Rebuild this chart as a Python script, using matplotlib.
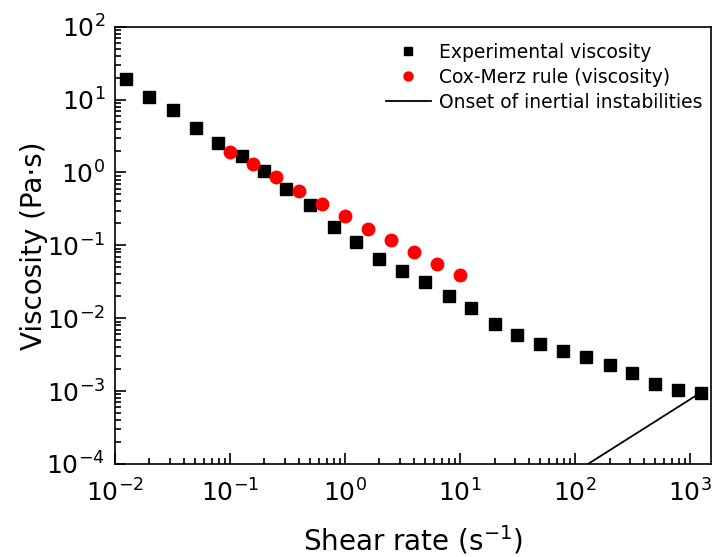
import numpy as np
import matplotlib.pyplot as plt
from matplotlib.ticker import LogLocator, NullFormatter

# experimental viscosity (black squares)
exp_rate = [0.0125, 0.020, 0.0319, 0.0506, 0.0787, 0.127, 0.20, 0.31, 0.50, 0.80,
            1.26, 2.0, 3.16, 5.0, 8.0, 12.6, 20, 31.6, 50, 79, 126, 200, 316, 500, 790, 1250]
exp_visc = [19.3, 11.0, 7.2, 4.1, 2.57, 1.66, 1.06, 0.60, 0.36, 0.18,
            0.11, 0.064, 0.045, 0.031, 0.020, 0.0138, 0.0083, 0.0059, 0.0044, 0.0035,
            0.0029, 0.0023, 0.0018, 0.00126, 0.00103, 0.00093]

# Cox-Merz rule (red circles)
cm_rate = [0.1, 0.158, 0.25, 0.398, 0.63, 1.0, 1.58, 2.5, 4.0, 6.3, 10.0]
cm_visc = [1.9, 1.32, 0.88, 0.56, 0.37, 0.25, 0.17, 0.12, 0.082, 0.056, 0.039]

# onset of inertial instabilities
onset_rate = [130, 1250]
onset_visc = [1e-4, 9.6e-4]

plt.rcParams['font.family'] = ['DejaVu Sans']
plt.rcParams['mathtext.default'] = 'regular'

fig = plt.figure(figsize=(7.13, 5.57), dpi=100)
ax = fig.add_axes([0.161, 0.167, 0.836, 0.785])

ax.plot(exp_rate, exp_visc, 's', color='black', markersize=8, label='Experimental viscosity')
ax.plot(cm_rate, cm_visc, 'o', color='red', markersize=9, label='Cox-Merz rule (viscosity)')
ax.plot(onset_rate, onset_visc, '-', color='black', linewidth=1.3, label='Onset of inertial instabilities')

ax.set_xscale('log')
ax.set_yscale('log')
ax.set_xlim(1e-2, 1.52e3)
ax.set_ylim(1e-4, 1e2)

ax.xaxis.set_major_locator(LogLocator(base=10, numticks=10))
ax.xaxis.set_minor_locator(LogLocator(base=10, subs=np.arange(2, 10), numticks=20))
ax.yaxis.set_major_locator(LogLocator(base=10, numticks=10))
ax.yaxis.set_minor_locator(LogLocator(base=10, subs=np.arange(2, 10), numticks=20))
ax.xaxis.set_minor_formatter(NullFormatter())
ax.yaxis.set_minor_formatter(NullFormatter())

ax.tick_params(which='both', direction='in', top=False, right=False, width=1.2)
ax.tick_params(which='major', length=8, labelsize=18, pad=7)
ax.tick_params(axis='x', which='major', pad=11)
ax.tick_params(which='minor', length=4)
for s in ax.spines.values():
    s.set_linewidth(1.2)

ax.set_xlabel('Shear rate (s$^{-1}$)', fontsize=20, labelpad=12)
ax.set_ylabel('Viscosity (Pa·s)', fontsize=20, labelpad=-1)

leg = ax.legend(loc='upper right', frameon=False, fontsize=13.5, handlelength=2.4,
                handletextpad=0.45, borderaxespad=0.1, labelspacing=0.33,
                bbox_to_anchor=(1.002, 0.985), markerscale=0.72)

fig.savefig('out.png', dpi=100)
